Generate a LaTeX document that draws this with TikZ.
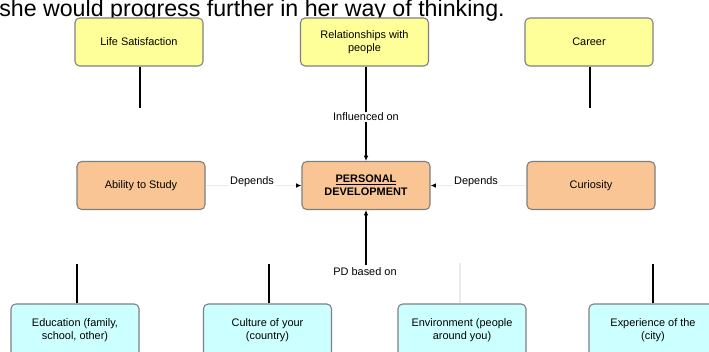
\documentclass[tikz,border=0pt]{standalone}
\usepackage{fontspec}
\setmainfont{Liberation Sans}
\usetikzlibrary{arrows.meta}
\definecolor{boxyellow}{HTML}{FFFF99}
\definecolor{boxorange}{HTML}{FAC595}
\definecolor{boxcyan}{HTML}{CCFFFF}
\definecolor{boxedge}{HTML}{7F7F7F}
\begin{document}
\begin{tikzpicture}[x=0.75pt,y=-0.75pt,
  box/.style={draw=boxedge, line width=0.8pt, rounded corners=3.5pt,
    minimum width=96pt, minimum height=36pt, inner sep=2pt, align=center,
    font=\fontsize{8.2}{10}\selectfont},
  topbox/.style={box, fill=boxyellow},
  midbox/.style={box, fill=boxorange},
  lowbox/.style={box, fill=boxcyan, minimum height=39pt},
  link/.style={line width=0.9pt, black},
  faint/.style={line width=0.8pt, black!8},
  tag/.style={font=\fontsize{8.2}{10}\selectfont, inner sep=1pt, fill=white},
  tip/.style={-{Latex[length=4pt,width=3.5pt,color=black]}}]
\useasboundingbox (0,0) rectangle (709,351);
\clip (0,0) rectangle (709,351);
\fill[white] (0,0) rectangle (709,351);

% heading line, partly above the frame
\node[anchor=base west, inner sep=0pt, font=\fontsize{17.4}{20}\selectfont] (head) at (-1,16)
  {she would progress further in her way of thinking.};

% upper row
\node[topbox] (life) at (139,42) {Life Satisfaction};
\node[topbox] (rel)  at (364.5,42) {Relationships with\\people};
\node[topbox] (car)  at (589,42) {Career};

% middle row
\node[midbox] (abil) at (141,185.5) {Ability to Study};
\node[midbox] (pd)   at (366,185.5) {\textbf{\underline{PERSONAL}}\\\textbf{DEVELOPMENT}};
\node[midbox] (cur)  at (591,185.5) {Curiosity};

% lower row
\node[lowbox] (edu) at (75,330) {Education (family,\\school, other)};
\node[lowbox] (cul) at (267.5,330) {Culture of your\\(country)};
\node[lowbox] (env) at (462,330) {Environment (people\\around you)};
\node[lowbox] (exp) at (653,330) {Experience of the\\(city)};

% free ends of the short stubs
\coordinate (lifeEnd) at (140,108);
\coordinate (carEnd)  at (590,108);
\coordinate (eduTop)  at (77,264);
\coordinate (culTop)  at (269,264);
\coordinate (envTop)  at (460,263);
\coordinate (expTop)  at (653,264);
\coordinate (pdBase)  at (366,265);

\draw[link] (life.south -| lifeEnd) -- (lifeEnd);
\draw[link] (car.south -| carEnd) -- (carEnd);
\draw[link] (eduTop) -- (edu.north -| eduTop);
\draw[link] (culTop) -- (cul.north -| culTop);
\draw[faint] (envTop) -- (env.north -| envTop);
\draw[link] (expTop) -- (exp.north -| expTop);

% arrows into the centre
\draw[link, tip] (rel.south -| pd.north) -- (pd.north);
\node[tag] (inf) at (366,117) {Influenced on};
\draw[link, tip] (pdBase) -- (pd.south);
\node[tag, fill=none] (based) at (365,272) {PD based on};

\draw[faint, tip] (abil.east) -- (pd.west);
\node[tag] (dep1) at (252,182) {Depends};
\draw[faint, tip] (cur.west) -- (pd.east);
\node[tag] (dep2) at (476,182) {Depends};
\end{tikzpicture}
\end{document}
